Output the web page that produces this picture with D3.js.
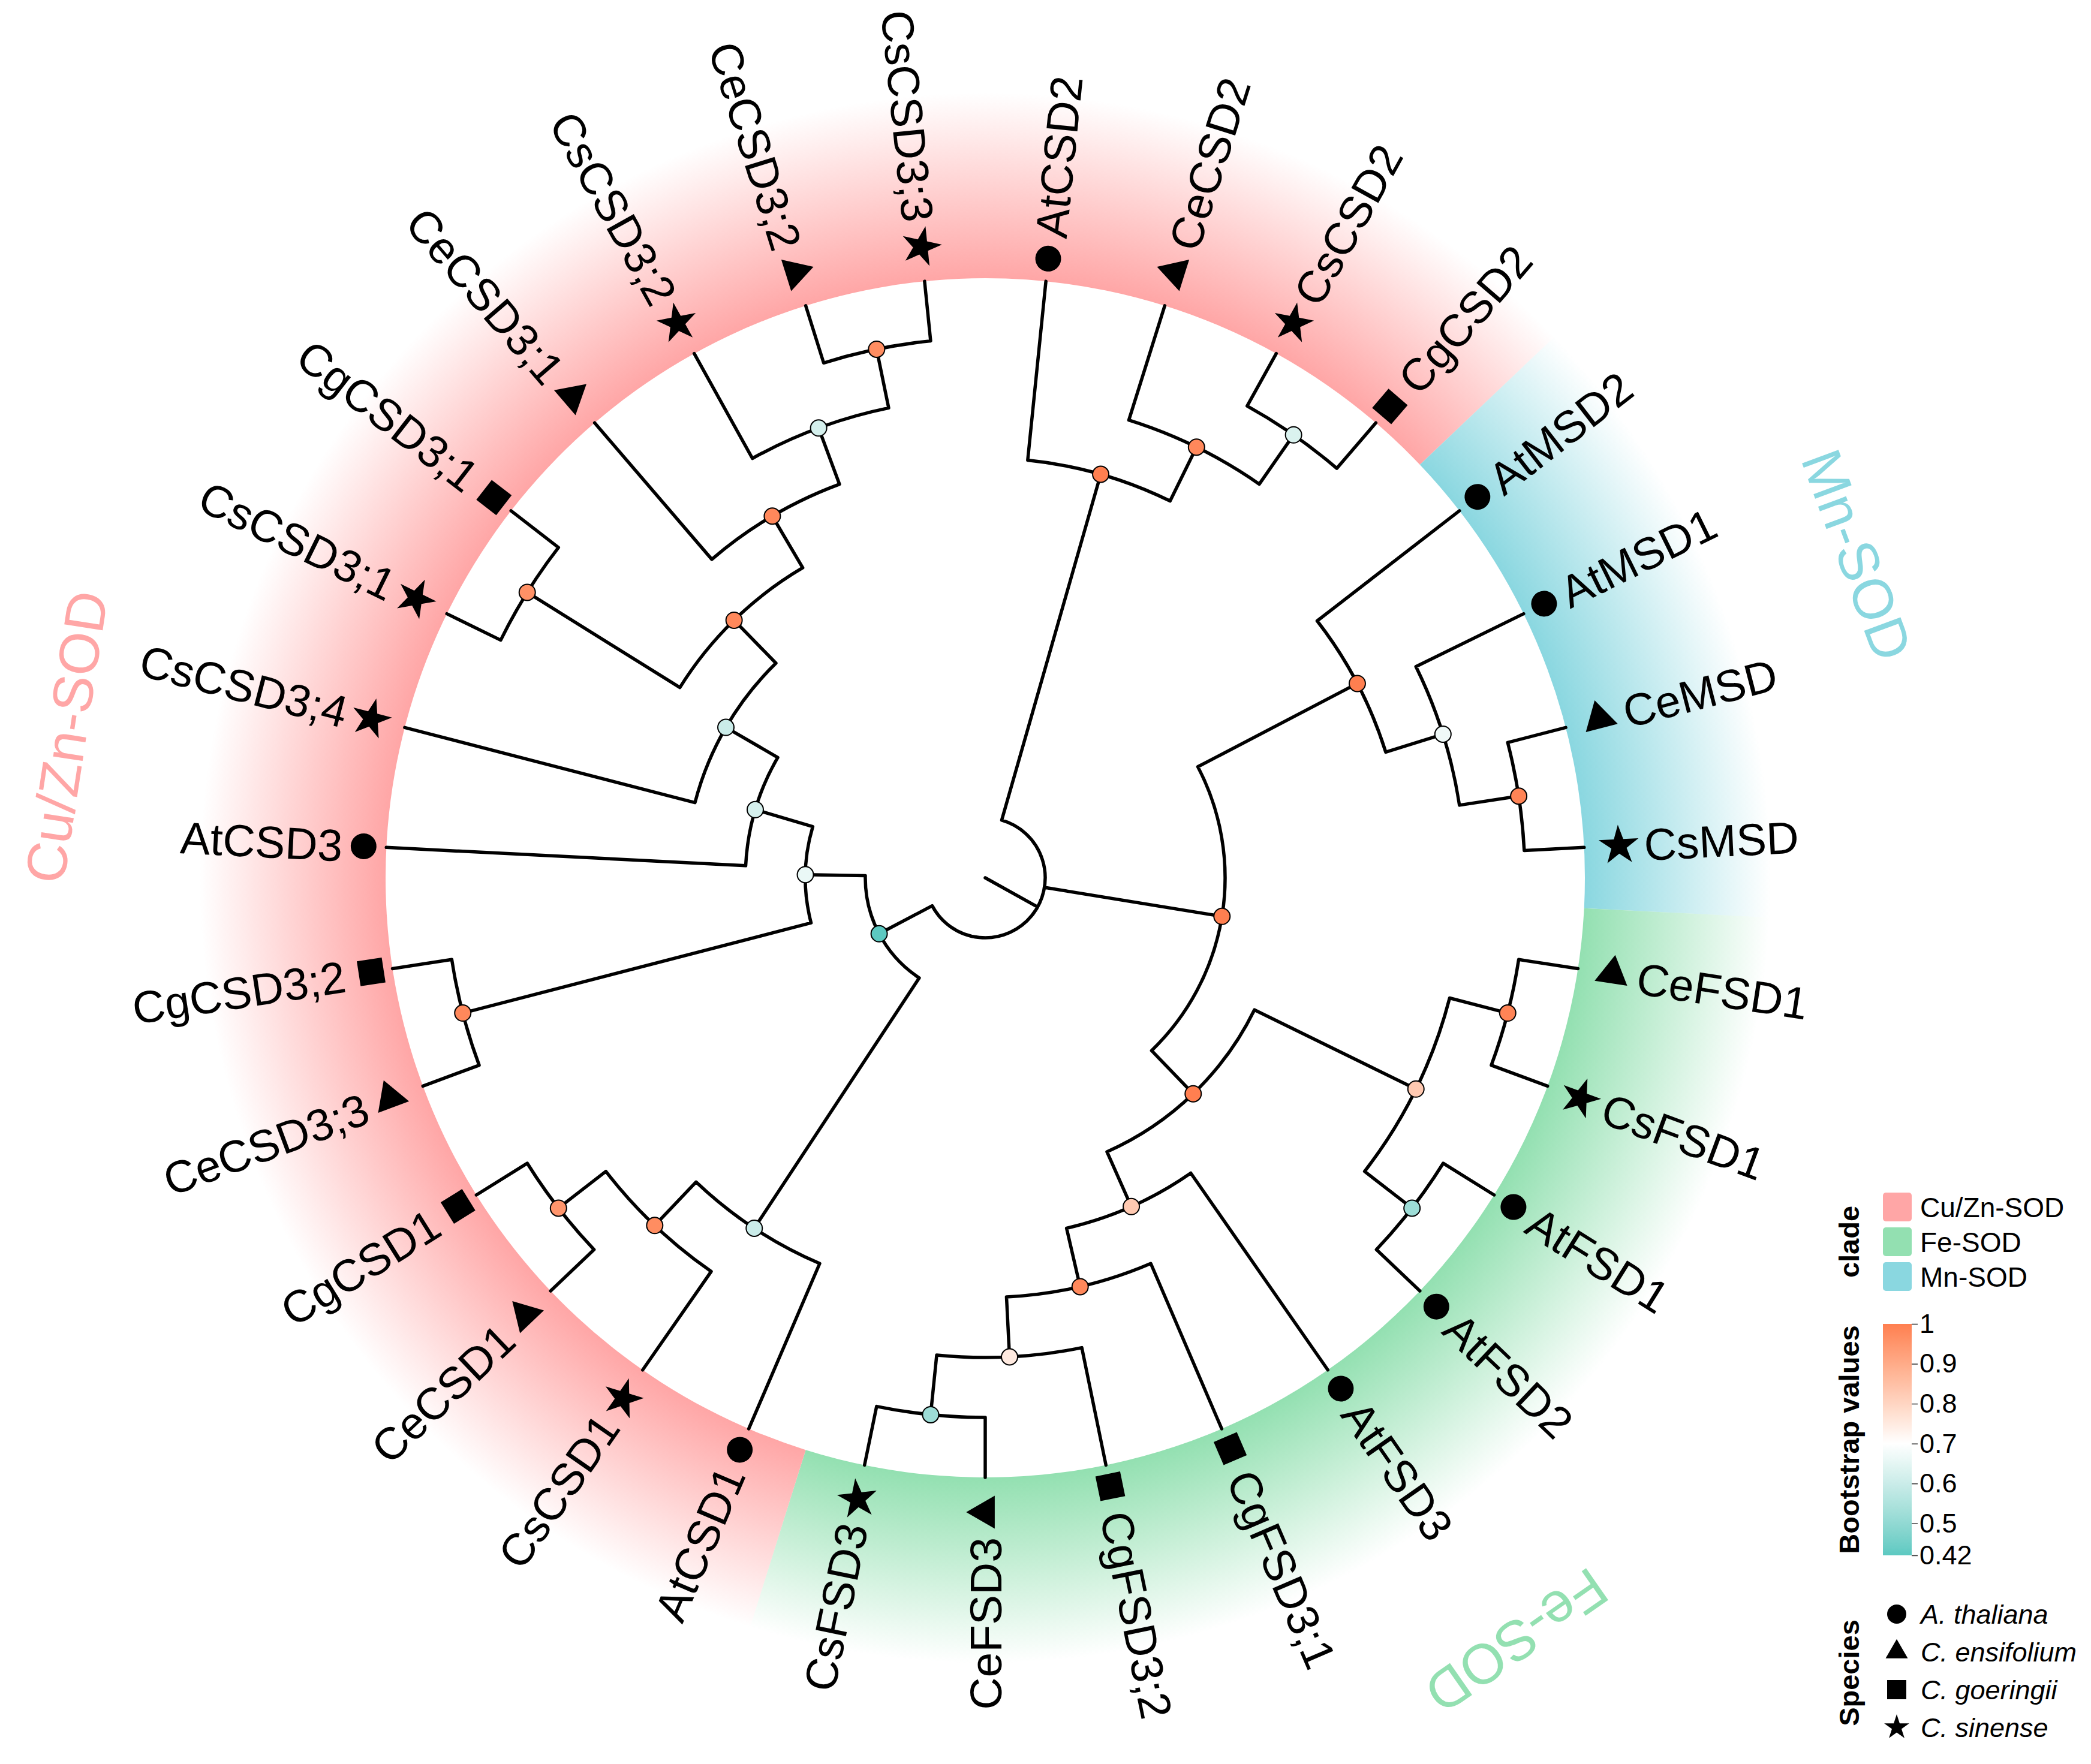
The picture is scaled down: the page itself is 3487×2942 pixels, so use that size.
<!DOCTYPE html>
<html>
<head>
<meta charset="utf-8">
<script src="https://d3js.org/d3.v7.min.js"></script>
<style>
body { margin: 0; background: #fff; }
text { font-family: "Liberation Sans", Arial, Helvetica, sans-serif; }
</style>
</head>
<body>
<svg width="3487" height="2942"></svg>
<script>

// tips, clockwise from the top
var tipNames = ["AtCSD2","CeCSD2","CsCSD2","CgCSD2","AtMSD2","AtMSD1","CeMSD","CsMSD",
  "CeFSD1","CsFSD1","AtFSD1","AtFSD2","AtFSD3","CgFSD3;1","CgFSD3;2","CeFSD3","CsFSD3",
  "AtCSD1","CsCSD1","CeCSD1","CgCSD1","CeCSD3;3","CgCSD3;2","AtCSD3","CsCSD3;4",
  "CsCSD3;1","CgCSD3;1","CeCSD3;1","CsCSD3;2","CeCSD3;2","CsCSD3;3"];
var tipParent = ["n1","n2","n3","n3","n5","n6","n7","n7",
  "n10","n10","n11","n11","n12","n13","n14","n15","n15",
  "n17","n18","n19","n19","n21","n21","n22","n23",
  "n25","n25","n26","n27","n28","n28"];
var tipClade = ["Cu/Zn-SOD","Cu/Zn-SOD","Cu/Zn-SOD","Cu/Zn-SOD","Mn-SOD","Mn-SOD","Mn-SOD","Mn-SOD",
  "Fe-SOD","Fe-SOD","Fe-SOD","Fe-SOD","Fe-SOD","Fe-SOD","Fe-SOD","Fe-SOD","Fe-SOD",
  "Cu/Zn-SOD","Cu/Zn-SOD","Cu/Zn-SOD","Cu/Zn-SOD","Cu/Zn-SOD","Cu/Zn-SOD","Cu/Zn-SOD","Cu/Zn-SOD",
  "Cu/Zn-SOD","Cu/Zn-SOD","Cu/Zn-SOD","Cu/Zn-SOD","Cu/Zn-SOD","Cu/Zn-SOD"];

// internal nodes
var nodeNames  = ["n1","n2","n3","n4","n5","n6","n7","n8","n9","n10","n11","n12","n13","n14",
  "n15","n16","n17","n18","n19","n20","n21","n22","n23","n24","n25","n26","n27","n28"];
var nodeParent = ["root","n1","n2","root","n4","n5","n6","n4","n8","n9","n9","n8","n12","n13",
  "n14","root","n16","n17","n18","n16","n20","n20","n22","n23","n24","n24","n26","n27"];
var bootstrap  = [1.0,0.98,0.63,1.0,1.0,0.67,0.99,1.0,0.83,0.99,0.52,0.83,0.98,0.75,
  0.52,0.42,0.60,0.97,0.95,0.66,0.98,0.62,0.60,0.98,0.96,0.98,0.62,0.97];

var cladeNames = ["Cu/Zn-SOD","Fe-SOD","Mn-SOD"];
var cladeColors = ["#FFA6A6","#93E0B1","#8AD7E0"];
var speciesCodes = ["At","Ce","Cg","Cs"];
var speciesNames = ["A. thaliana","C. ensifolium","C. goeringii","C. sinense"];
var bootTicks = [1,0.9,0.8,0.7,0.6,0.5,0.42];

var svg = d3.select("svg");
var cx = 1643, cy = 1464;
var tipLevel = 10;

var rows = [{id: "root", parent: null}];
nodeNames.forEach(function(n, i) { rows.push({id: n, parent: nodeParent[i], boot: bootstrap[i]}); });
tipNames.forEach(function(n, i) { rows.push({id: n, parent: tipParent[i], tip: i}); });

var root = d3.stratify().id(function(d) { return d.id; }).parentId(function(d) { return d.parent; })(rows);
root.eachAfter(function(n) {
  n.pos = n.children ? d3.mean(n.children, function(c) { return c.pos; }) : n.data.tip + 0.5;
  n.level = tipLevel - n.height;
});

var r = d3.scaleLinear().domain([0, tipLevel]).range([0, 1000]);
var a = d3.scaleLinear().domain([0, tipNames.length]).range([0, 2 * Math.PI]);
var cladeColor = d3.scaleOrdinal().domain(cladeNames).range(cladeColors);
var bootColor = d3.scaleLinear().domain([0.4, 0.7, 1])
  .range(["#4CC5BD", "#ffffff", "#FF7F50"]).interpolate(d3.interpolateLab);

var symType = {At: d3.symbolCircle, Ce: d3.symbolTriangle, Cg: d3.symbolSquare, Cs: d3.symbolStar};
var symSize = {At: 1452, Ce: 1310, Cg: 1764, Cs: 1375};
var symR = {At: 1038, Ce: 1058, Cg: 1036, Cs: 1058};
var txtR = {At: 1073, Ce: 1100, Cg: 1080, Cs: 1100};
var legSize = {At: 804, Ce: 593, Cg: 1024, Cs: 543};

var defs = svg.append("defs");
var g = svg.append("g").attr("transform", "translate(" + cx + "," + cy + ")");

// clade bands
cladeNames.forEach(function(c, i) {
  var grad = defs.append("radialGradient").attr("id", "band" + i)
    .attr("gradientUnits", "userSpaceOnUse").attr("cx", 0).attr("cy", 0).attr("r", 1310);
  grad.append("stop").attr("offset", 1000 / 1310).attr("stop-color", cladeColors[i]).attr("stop-opacity", 1);
  grad.append("stop").attr("offset", 1).attr("stop-color", cladeColors[i]).attr("stop-opacity", 0);
});

var runs = [];
tipClade.forEach(function(c, i) {
  var last = runs[runs.length - 1];
  if (last && last.clade === c) last.end = i;
  else runs.push({clade: c, start: i, end: i});
});

var band = d3.arc().innerRadius(1000).outerRadius(1310);
g.selectAll(".band").data(runs).enter().append("path")
  .attr("d", function(d) { return band({startAngle: a(d.start), endAngle: a(d.end + 1)}); })
  .attr("fill", function(d) { return "url(#band" + cladeNames.indexOf(d.clade) + ")"; });

// branches
var nodes = root.descendants();
var branch = d3.path();
nodes.forEach(function(n) {
  var p0, p1;
  if (n.parent) {
    p0 = d3.pointRadial(a(n.pos), r(n.parent.level));
    p1 = d3.pointRadial(a(n.pos), r(n.level));
  } else {
    p0 = [0, 0];
    p1 = d3.pointRadial(a(n.pos), r(n.level));
  }
  branch.moveTo(p0[0], p0[1]);
  branch.lineTo(p1[0], p1[1]);
  if (n.children) {
    var lo = d3.min(n.children, function(c) { return c.pos; });
    var hi = d3.max(n.children, function(c) { return c.pos; });
    var s = d3.pointRadial(a(lo), r(n.level));
    branch.moveTo(s[0], s[1]);
    branch.arc(0, 0, r(n.level), a(lo) - Math.PI / 2, a(hi) - Math.PI / 2);
  }
});
g.append("path").attr("d", branch.toString())
  .attr("fill", "none").attr("stroke", "#000").attr("stroke-width", 5.5)
  .attr("stroke-linecap", "round").attr("stroke-linejoin", "round");

// bootstrap points
g.selectAll(".boot").data(nodes.filter(function(n) { return n.data.boot != null; }))
  .enter().append("circle")
  .attr("transform", function(n) { return "translate(" + d3.pointRadial(a(n.pos), r(n.level)) + ")"; })
  .attr("r", 13.5)
  .attr("fill", function(n) { return bootColor(n.data.boot); })
  .attr("stroke", "#000").attr("stroke-width", 2);

// tip symbols and labels
var tips = root.leaves();
tips.forEach(function(n) {
  var sp = n.id.slice(0, 2);
  var ang = a(n.pos), deg = ang * 180 / Math.PI;
  var right = deg < 180;
  var rot = right ? deg - 90 : deg + 90;
  g.append("path")
    .attr("d", d3.symbol(symType[sp], symSize[sp])())
    .attr("transform", "translate(" + d3.pointRadial(ang, symR[sp]) + ") rotate(" + rot + ")");
  g.append("text")
    .attr("transform", "translate(" + d3.pointRadial(ang, txtR[sp]) + ") rotate(" + rot + ")")
    .attr("text-anchor", right ? "start" : "end")
    .attr("dy", "0.36em")
    .style("font-size", "75px")
    .text(n.id);
});

// clade labels
cladeNames.forEach(function(c) {
  var best = runs.filter(function(d) { return d.clade === c; })
    .sort(function(x, y) { return (y.end - y.start) - (x.end - x.start); })[0];
  var ang = a((best.start + best.end + 1) / 2);
  g.append("text")
    .attr("transform", "translate(" + d3.pointRadial(ang, 1550) + ") rotate(" + (ang * 180 / Math.PI) + ")")
    .attr("text-anchor", "middle")
    .attr("dominant-baseline", "central")
    .attr("fill", cladeColor(c))
    .style("font-size", "94px")
    .text(c);
});

// legend: clade
var leg = svg.append("g");
leg.append("text").attr("transform", "translate(3100,2071) rotate(-90)")
  .attr("text-anchor", "middle").style("font-size", "47px").style("font-weight", "bold").text("clade");
cladeNames.forEach(function(c, i) {
  leg.append("rect").attr("x", 3140).attr("y", 1989 + i * 58).attr("width", 48).attr("height", 48)
    .attr("rx", 5).attr("fill", cladeColors[i]);
  leg.append("text").attr("x", 3202).attr("y", 1989 + i * 58 + 24).attr("dy", "0.36em")
    .style("font-size", "46px").text(c);
});

// legend: bootstrap colorbar
var barY = d3.scaleLinear().domain([0.42, 1]).range([2594, 2208]);
var lg = defs.append("linearGradient").attr("id", "bootbar")
  .attr("x1", 0).attr("y1", 1).attr("x2", 0).attr("y2", 0);
d3.range(0.42, 1.0001, 0.02).forEach(function(v) {
  lg.append("stop").attr("offset", (v - 0.42) / 0.58).attr("stop-color", bootColor(Math.min(v, 1)));
});
leg.append("rect").attr("x", 3140).attr("y", 2208).attr("width", 48).attr("height", 386)
  .attr("fill", "url(#bootbar)");
var ax = leg.append("g").attr("transform", "translate(3188,0)")
  .call(d3.axisRight(barY).tickValues(bootTicks).tickSize(10).tickPadding(3)
    .tickFormat(function(d) { return String(d); }));
ax.select(".domain").remove();
ax.selectAll("line").attr("stroke", "#333").attr("stroke-width", 1.5);
ax.selectAll("text").style("font-size", "45px").attr("fill", "#000")
  .style("font-family", "'Liberation Sans', Arial, sans-serif");
leg.append("text").attr("transform", "translate(3100,2401) rotate(-90)")
  .attr("text-anchor", "middle").style("font-size", "47px").style("font-weight", "bold")
  .text("Bootstrap values");

// legend: species
leg.append("text").attr("transform", "translate(3100,2790) rotate(-90)")
  .attr("text-anchor", "middle").style("font-size", "47px").style("font-weight", "bold").text("Species");
speciesCodes.forEach(function(sp, i) {
  var y = 2692 + i * 63;
  leg.append("path").attr("d", d3.symbol(symType[sp], legSize[sp])())
    .attr("transform", "translate(3163," + y + ")");
  leg.append("text").attr("x", 3203).attr("y", y).attr("dy", "0.36em")
    .style("font-size", "45px").style("font-style", "italic").text(speciesNames[i]);
});

</script>
</body>
</html>
